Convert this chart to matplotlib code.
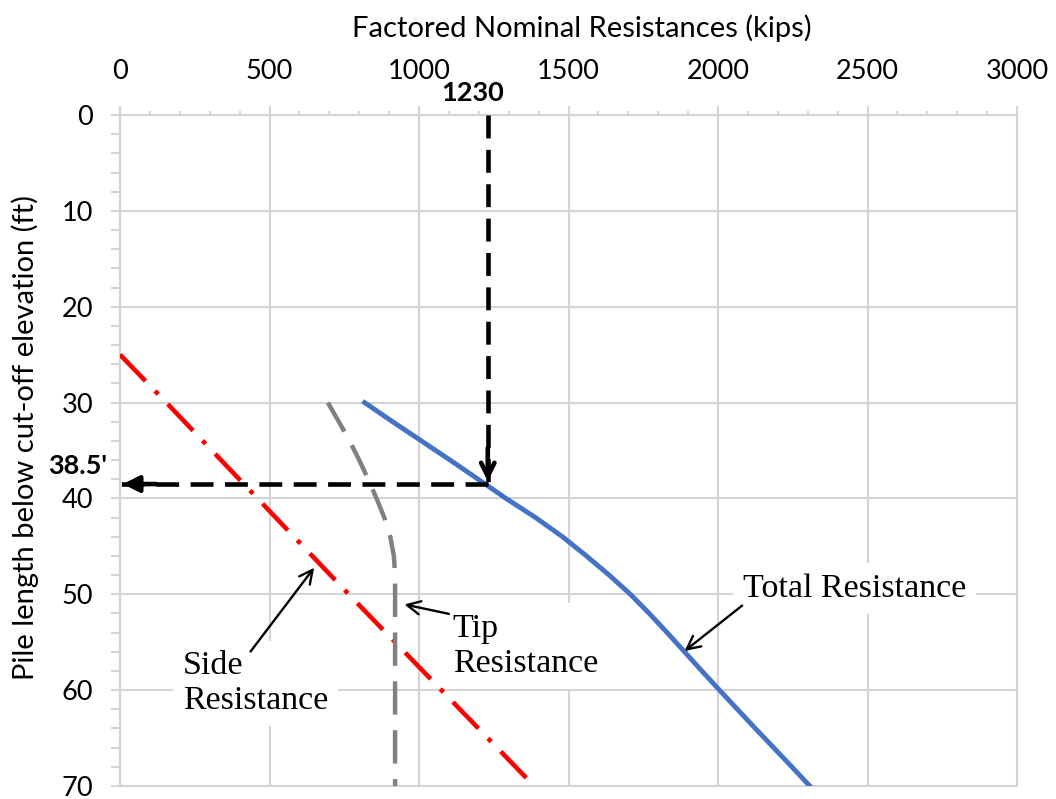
import matplotlib.pyplot as plt
from matplotlib.ticker import MultipleLocator

plt.rcParams['font.family'] = ['Lato', 'DejaVu Sans']

# pile length below cut-off (ft) and factored resistances (kips)
total_depth = [30, 32, 34, 36, 38, 40, 42, 44, 46, 48, 50, 52, 54, 56, 58, 60, 62, 64, 66, 68, 70]
total_res = [818, 912, 1008, 1104, 1198, 1291, 1390, 1480, 1560, 1636, 1707, 1770, 1830, 1888,
             1946, 2005, 2065, 2125, 2186, 2247, 2307]

tip_depth = [30, 32, 34, 36, 38, 40, 42, 44, 46, 48, 50, 60, 70]
tip_res = [695, 732, 768, 800, 830, 858, 884, 904, 916, 920, 920, 920, 920]

side_depth = [25, 30, 40, 50, 60, 70]
side_res = [0, 155, 460, 765, 1075, 1385]

design_load = 1230
design_depth = 38.5

x_ticks = [0, 500, 1000, 1500, 2000, 2500, 3000]
y_ticks = [0, 10, 20, 30, 40, 50, 60, 70]

grid_c = '#d4d4d4'

fig = plt.figure(figsize=(10.56, 7.99), dpi=100)
ax = fig.add_axes([120 / 1056, 13 / 799, 897 / 1056, 671 / 799])

ax.plot(side_res, side_depth, color='#ff0000', lw=3.3, linestyle=(0, (8, 3, 1, 3)), zorder=3)
ax.plot(tip_res, tip_depth, color='#808080', lw=3.2, linestyle=(0, (7.5, 3.5)), zorder=3)
ax.plot(total_res, total_depth, color='#4472c4', lw=3.5, zorder=3)

# design arrows
ax.plot([design_load, design_load], [0, design_depth], color='k', lw=3.3, dashes=(5, 2.5), zorder=5)
ax.plot([design_load, 0], [design_depth, design_depth], color='k', lw=3.3, dashes=(5, 2.5), zorder=5)
ax.annotate('', xy=(design_load, design_depth), xytext=(0, 28), textcoords='offset points',
            arrowprops=dict(arrowstyle='->', lw=3.3, color='k', mutation_scale=24), zorder=6)
ax.annotate('', xy=(0, design_depth), xytext=(28, 0), textcoords='offset points',
            arrowprops=dict(arrowstyle='-|>', lw=3.3, color='k', mutation_scale=24), zorder=6)
ax.text(1180, -2.3, str(design_load), fontsize=19.5, fontweight='bold', ha='center', va='center',
        clip_on=False)
ax.text(-140, 36.6, f"{design_depth}'", fontsize=19.5, fontweight='bold', ha='center', va='center',
        clip_on=False)

# curve labels
serif = ['Liberation Serif', 'DejaVu Serif']
box = dict(facecolor='white', edgecolor='none', pad=7)
arr = dict(arrowstyle='->', lw=1.7, color='k', mutation_scale=24)
ax.text(2082, 49.4, 'Total Resistance', family=serif, fontsize=24.5, ha='left', va='center',
        bbox=box, zorder=4)
ax.annotate('', xy=(1881, 56.1), xytext=(2088, 51.0), arrowprops=arr, zorder=6)
ax.text(1113, 55.4, 'Tip\nResistance', family=serif, fontsize=24.5, ha='left', va='center',
        bbox=box, zorder=2)
ax.annotate('', xy=(942, 51.0), xytext=(1109, 52.1), arrowprops=arr, zorder=6)
ax.text(210, 59.3, 'Side\nResistance', family=serif, fontsize=24.5, ha='left', va='center',
        bbox=box, zorder=2)
ax.annotate('', xy=(655, 47.0), xytext=(431, 56.2), arrowprops=arr, zorder=6)

ax.set_xlim(0, 3000)
ax.set_ylim(70, 0)
ax.set_xticks(x_ticks)
ax.set_yticks(y_ticks)
ax.xaxis.set_minor_locator(MultipleLocator(100))
ax.yaxis.set_minor_locator(MultipleLocator(2))
ax.xaxis.tick_top()
ax.tick_params(axis='x', which='major', length=6.5, width=1.5, color=grid_c, pad=16, labelsize=19.5)
ax.tick_params(axis='x', which='minor', length=3, width=1.5, color=grid_c)
ax.tick_params(axis='y', which='both', length=6.5, width=1.5, color=grid_c, pad=13, labelsize=19.5)
ax.grid(True, which='major', color=grid_c, lw=1.5, zorder=0)
ax.set_axisbelow(True)
for s in ax.spines.values():
    s.set_color(grid_c)
    s.set_linewidth(1.5)

fig.text(582 / 1056, 1 - 28 / 799, 'Factored Nominal Resistances (kips)', fontsize=21,
         ha='center', va='center')
fig.text(25 / 1056, 1 - 437 / 799, 'Pile length below cut-off elevation (ft)', fontsize=21,
         ha='center', va='center', rotation=90)

plt.savefig('out.png', dpi=100)
